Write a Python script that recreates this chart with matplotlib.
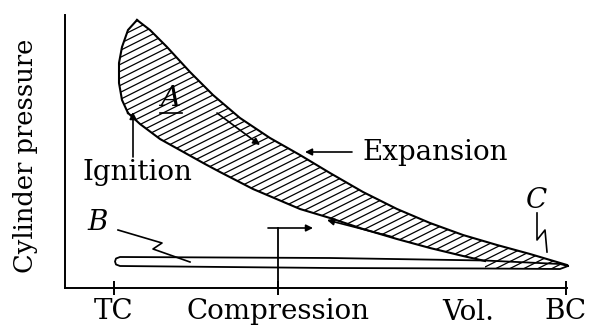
import numpy as np
import matplotlib
matplotlib.use('Agg')
import matplotlib.pyplot as plt
from matplotlib.patches import Polygon
from matplotlib.collections import LineCollection

# volume measured from the pressure axis, pressure measured from the volume axis
# expansion stroke (upper edge of loop A), from peak to bottom centre
exp_vol = [72, 85, 102, 125, 148, 175, 205, 235, 265, 298, 332, 365, 398, 432, 465, 502]
exp_pres = [268, 258, 241, 216, 193, 170, 150, 133, 115, 96, 79, 65, 53, 43, 34, 23]

# combustion rise near top centre (left edge of loop A), from ignition up to peak
comb_vol = [63, 57, 54, 54, 57, 63, 72]
comb_pres = [175, 188, 205, 225, 241, 258, 268]

# compression stroke (lower edge of loop A), from bottom centre side up to ignition
comp_vol = [420, 398, 365, 332, 298, 265, 235, 188, 155, 140, 122, 95, 75, 63]
comp_pres = [27, 32, 40, 49, 59, 70, 79, 99, 116, 124, 134, 149, 164, 175]

# pumping loop B (exhaust on top, intake below)
pump_vol = [503, 495, 420, 265, 55, 51, 50, 51, 55, 265, 420, 495, 503]
pump_pres = [22, 24, 27.5, 30, 31, 29.5, 26.5, 23.5, 22, 20, 19.5, 19, 22]

# bottom edge of hatched area near bottom centre
tail_vol = [502, 495, 420]
tail_pres = [23, 19, 19.5]

tick_pos = [49, 213, 501]
tick_labels = ['TC', 'Compression', 'BC']

serif = 'DejaVu Serif'
fig = plt.figure(figsize=(5.92, 3.29), dpi=100)
ax = fig.add_axes([65 / 592, 41 / 329, 502 / 592, 273 / 329])
ax.set_xlim(0, 502)
ax.set_ylim(0, 273)
for s in ['top', 'right']:
    ax.spines[s].set_visible(False)
for s in ['left', 'bottom']:
    ax.spines[s].set_linewidth(1.4)
ax.set_yticks([])
ax.set_xticks(tick_pos)
ax.set_xticklabels(tick_labels, family=serif, fontsize=20)
ax.tick_params(axis='x', direction='inout', length=10, width=1.4, pad=2)
ax.text(-39, 132, 'Cylinder pressure', family=serif, fontsize=18.5, rotation=90,
        ha='center', va='center')

# hatched loop A
hx = exp_vol + tail_vol[1:] + comp_vol + comb_vol
hy = exp_pres + tail_pres[1:] + comp_pres + comb_pres
loop = Polygon(np.column_stack([hx, hy]), closed=True, facecolor='white', lw=0)
ax.add_patch(loop)
slope = 0.5
offsets = np.arange(-280, 300, 7)
segs = [[(0, c), (520, c + slope * 520)] for c in offsets]
hatch = LineCollection(segs, colors='black', linewidths=0.9)
ax.add_collection(hatch)
hatch.set_clip_path(loop)

ax.plot(exp_vol, exp_pres, color='black', lw=1.5, clip_on=False)
ax.plot(comb_vol, comb_pres, color='black', lw=1.5, clip_on=False)
ax.plot(comp_vol, comp_pres, color='black', lw=1.5, clip_on=False)
ax.plot(pump_vol, pump_pres, color='black', lw=1.3, clip_on=False)

arr = dict(arrowstyle='-|>', color='black', lw=1.2, mutation_scale=10, shrinkA=0, shrinkB=0)
ax.annotate('', xy=(195, 143), xytext=(152, 175), arrowprops=arr)
ax.annotate('', xy=(262, 68), xytext=(328, 51), arrowprops=arr)
ax.annotate('', xy=(240, 136), xytext=(287, 136), arrowprops=arr)
ax.annotate('', xy=(68, 176), xytext=(68, 131), arrowprops=arr)

# compression marker
ax.plot([213, 213], [60, 0], color='black', lw=1.3)
ax.annotate('', xy=(248, 60), xytext=(203, 60), arrowprops=arr)

# leaders for B and C
ax.plot([53, 97, 88, 125], [58, 45, 39, 26], color='black', lw=1.2)
ax.plot([472, 472, 480, 482], [75, 48, 58, 36], color='black', lw=1.2)

font = dict(family=serif, fontsize=20)
ax.text(297, 136, 'Expansion', ha='left', va='center', **font)
ax.text(72, 116, 'Ignition', ha='center', va='center', **font)
ax.text(105, 190, 'A', ha='center', va='center', style='italic', **font)
ax.plot([95, 117], [175, 175], color='black', lw=1.2)
ax.text(33, 66, 'B', ha='center', va='center', style='italic', **font)
ax.text(472, 88, 'C', ha='center', va='center', style='italic', **font)
ax.text(403, -24, 'Vol.', ha='center', va='center', **font)

fig.savefig('out.png', dpi=100)
